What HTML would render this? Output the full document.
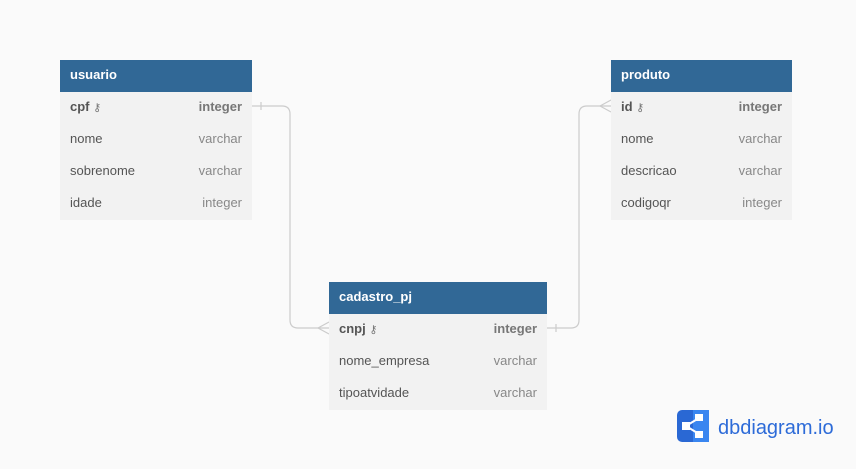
<!DOCTYPE html>
<html><head><style>
body{margin:0;width:856px;height:469px;background:#fafafa;font-family:"Liberation Sans",sans-serif;position:relative;overflow:hidden}
.t{position:absolute;background:#f2f2f2}
.h{height:32px;background:#316896;color:#fff;font-weight:bold;font-size:13px;line-height:29px;padding-left:10px}
.r{height:32px;line-height:30px;font-size:13px;color:#555;position:relative;padding-left:10px}
.r span{position:absolute;right:10px;color:#888}
.r.pk{font-weight:bold;color:#555}
.r.pk span{color:#777}
.k{font-weight:normal;font-size:11px;color:#777}
</style></head><body>
<svg width="856" height="469" style="position:absolute;left:0;top:0">
<g fill="none" stroke="#ccc" stroke-width="1.2">
<path d="M252 106 H282 Q290 106 290 114 V320 Q290 328 298 328 H329"/>
<path d="M261 102 V110"/>
<path d="M329 322 L318 328 L329 334"/>
<path d="M547 328 H571 Q579 328 579 320 V114 Q579 106 587 106 H611"/>
<path d="M556 324 V332"/>
<path d="M611 100 L600 106 L611 112"/>
</g>
<rect x="677" y="410" width="32" height="32" rx="5" fill="#2a68d4"/>
<rect x="693" y="410" width="16" height="32" rx="0" fill="#3a86f0"/>
<g stroke="#fff" stroke-width="2"><line x1="686" y1="426" x2="699" y2="418"/><line x1="686" y1="426" x2="699" y2="434"/></g>
<rect x="682" y="422" width="8" height="8" fill="#fff"/><rect x="695" y="414" width="8" height="7" fill="#fff"/><rect x="695" y="431" width="8" height="7" fill="#fff"/>
<text x="718" y="434" font-family="Liberation Sans, sans-serif" font-size="20" fill="#2d6bd8">dbdiagram.io</text>
</svg>
<div class="t" style="left:60px;top:60px;width:192px">
<div class="h">usuario</div>
<div class="r pk">cpf <span class="k" style="position:static">⚷</span><span>integer</span></div>
<div class="r">nome<span>varchar</span></div>
<div class="r">sobrenome<span>varchar</span></div>
<div class="r">idade<span>integer</span></div>
</div>
<div class="t" style="left:611px;top:60px;width:181px">
<div class="h">produto</div>
<div class="r pk">id <span class="k" style="position:static">⚷</span><span>integer</span></div>
<div class="r">nome<span>varchar</span></div>
<div class="r">descricao<span>varchar</span></div>
<div class="r">codigoqr<span>integer</span></div>
</div>
<div class="t" style="left:329px;top:282px;width:218px">
<div class="h">cadastro_pj</div>
<div class="r pk">cnpj <span class="k" style="position:static">⚷</span><span>integer</span></div>
<div class="r">nome_empresa<span>varchar</span></div>
<div class="r">tipoatvidade<span>varchar</span></div>
</div>
</body></html>
